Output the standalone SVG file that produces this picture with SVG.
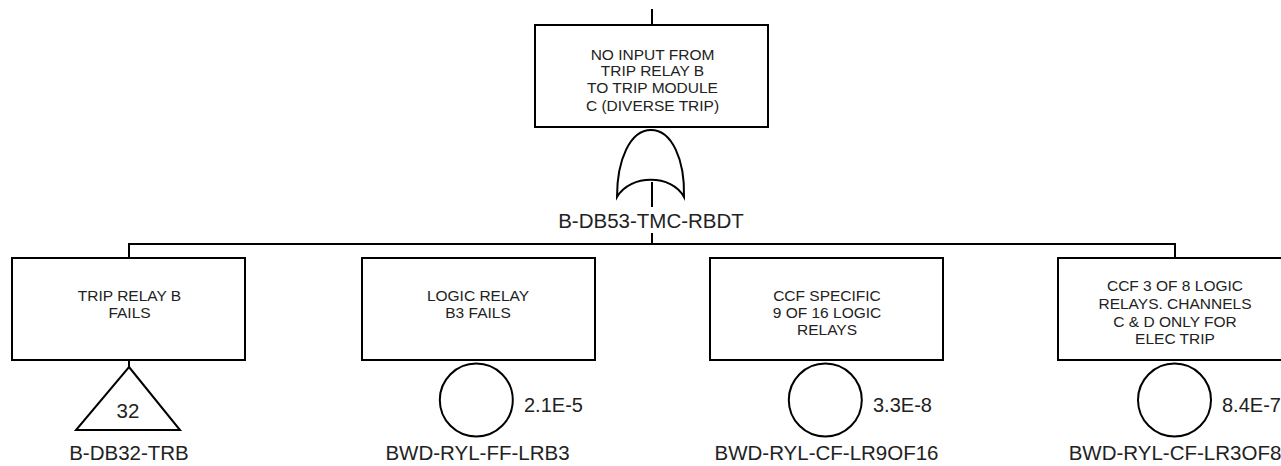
<svg xmlns="http://www.w3.org/2000/svg" width="1281" height="466" viewBox="0 0 1281 466">
<style>
text{font-family:"Liberation Sans",Arial,sans-serif;fill:#222;text-anchor:middle}
.t{font-size:15.5px}
.l{font-size:20.5px}
.v{font-size:20px;text-anchor:start}
.s{fill:#fff;stroke:#000;stroke-width:2}
.c{fill:none;stroke:#000;stroke-width:2}
</style>
<rect width="1281" height="466" fill="#fff"/>
<g id="connectors">
<path class="c" d="M652 9V25M652 182V207M652 233V244M129 258V244H1175V258M129 360V367"/>
</g>
<g id="top-event">
<rect class="s" x="535" y="25" width="233" height="102"/>
<text class="t" x="652.500" y="60">NO INPUT FROM</text>
<text class="t" x="652.500" y="76">TRIP RELAY B</text>
<text class="t" x="652.500" y="93">TO TRIP MODULE</text>
<text class="t" x="652.500" y="111">C (DIVERSE TRIP)</text>
</g>
<g id="or-gate">
<path class="c" d="M617 197C617 160 630 130 651 130C672 130 685 160 684 197C672 174 630 174 617 197Z"/>
<text class="l" x="651" y="227.500">B-DB53-TMC-RBDT</text>
</g>
<g id="trip-relay">
<rect class="s" x="12" y="258" width="233" height="102"/>
<text class="t" x="129.500" y="301">TRIP RELAY B</text>
<text class="t" x="129.500" y="318">FAILS</text>
<path class="s" d="M129 367L180 430H76Z"/>
<text class="l" x="128" y="418">32</text>
<text class="l" x="129" y="460">B-DB32-TRB</text>
</g>
<g id="logic-relay">
<rect class="s" x="362" y="258" width="233" height="102"/>
<text class="t" x="478" y="301">LOGIC RELAY</text>
<text class="t" x="478" y="318">B3 FAILS</text>
<circle class="s" cx="476.300" cy="400" r="36.500"/>
<text class="v" x="524" y="412">2.1E-5</text>
<text class="l" x="477.500" y="460">BWD-RYL-FF-LRB3</text>
</g>
<g id="ccf-9of16">
<rect class="s" x="710" y="258" width="233" height="102"/>
<text class="t" x="827" y="301">CCF SPECIFIC</text>
<text class="t" x="827" y="318">9 OF 16 LOGIC</text>
<text class="t" x="827" y="335">RELAYS</text>
<circle class="s" cx="825.300" cy="400" r="36.500"/>
<text class="v" x="873" y="412">3.3E-8</text>
<text class="l" x="826.500" y="460">BWD-RYL-CF-LR9OF16</text>
</g>
<g id="ccf-3of8">
<rect class="s" x="1058" y="258" width="233" height="102"/>
<text class="t" x="1175" y="291">CCF 3 OF 8 LOGIC</text>
<text class="t" x="1175" y="309">RELAYS. CHANNELS</text>
<text class="t" x="1175" y="327">C &amp; D ONLY FOR</text>
<text class="t" x="1175" y="344">ELEC TRIP</text>
<circle class="s" cx="1174.500" cy="400" r="36.500"/>
<text class="v" x="1222" y="412">8.4E-7</text>
<text class="l" x="1175" y="460">BWD-RYL-CF-LR3OF8</text>
</g>
</svg>
